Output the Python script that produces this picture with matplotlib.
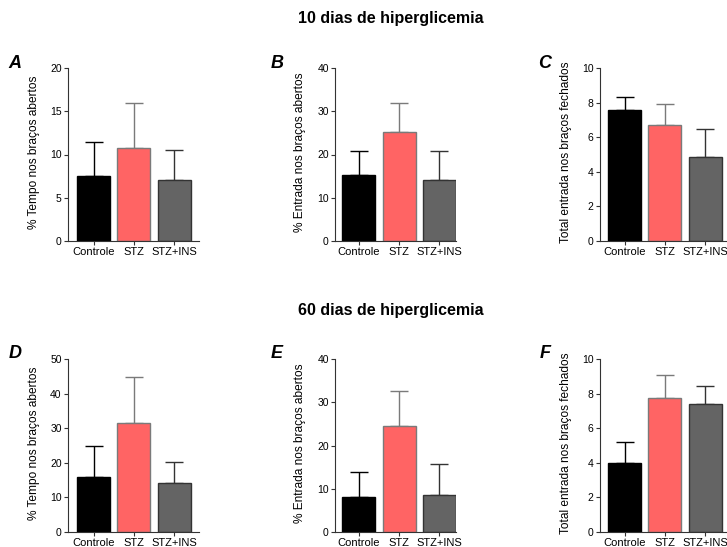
import matplotlib
matplotlib.use("Agg")
import matplotlib.pyplot as plt

plt.rcParams['font.family'] = ['Liberation Sans', 'DejaVu Sans']

categories = ["Controle", "STZ", "STZ+INS"]

# 10 dias
a_mean = [7.5, 10.7, 7.0]
a_err = [4.0, 5.2, 3.5]
b_mean = [15.2, 25.3, 14.2]
b_err = [5.7, 6.7, 6.5]
c_mean = [7.6, 6.7, 4.85]
c_err = [0.75, 1.2, 1.6]
# 60 dias
d_mean = [15.9, 31.6, 14.3]
d_err = [9.1, 13.2, 6.0]
e_mean = [8.2, 24.5, 8.5]
e_err = [5.6, 8.2, 7.3]
f_mean = [4.0, 7.75, 7.4]
f_err = [1.2, 1.35, 1.05]

ylabels = ["% Tempo nos braços abertos", "% Entrada nos braços abertos",
           "Total entrada nos braços fechados"]
letters = ["A", "B", "C", "D", "E", "F"]
ymax = [20, 40, 10, 50, 40, 10]
ystep = [5, 10, 2, 10, 10, 2]
titles = ["10 dias de hiperglicemia", "60 dias de hiperglicemia"]

fills = ["#000000", "#FF6464", "#646464"]
edges = ["#000000", "#7a7a7a", "#333333"]

W, H = 727, 547
fig = plt.figure(figsize=(W / 100, H / 100), dpi=100)

cols = [(68, 199, -0.634, 2.62, 34, 15),
        (335, 456, -0.596, 2.41, 300, 277),
        (600, 726, -0.609, 2.52, 566, 545)]
rows = [(68, 241), (359, 532)]

data = [(a_mean, a_err), (b_mean, b_err), (c_mean, c_err),
        (d_mean, d_err), (e_mean, e_err), (f_mean, f_err)]

for r, (top, bot) in enumerate(rows):
    for c, (xl, xr, lo, hi, ylx, letx) in enumerate(cols):
        idx = r * 3 + c
        ax = fig.add_axes([xl / W, 1 - bot / H, (xr - xl) / W, (bot - top) / H])
        means, errs = data[idx]
        for i in range(3):
            ax.bar(i, means[i], width=0.82, color=fills[i], edgecolor=edges[i],
                   linewidth=1.0, zorder=2)
            ax.errorbar(i, means[i], yerr=[[0], [errs[i]]], fmt='none',
                        ecolor=edges[i], elinewidth=1.0, capsize=6.5,
                        capthick=1.0, zorder=1)
        ax.set_xlim(lo, hi)
        ax.set_ylim(0, ymax[idx])
        ax.set_yticks(range(0, ymax[idx] + 1, ystep[idx]))
        ax.set_xticks(range(3))
        ax.set_xticklabels(categories, fontsize=8)
        ax.tick_params(axis='y', labelsize=7.5, length=3, width=0.8, color='#333333', pad=1.5)
        ax.tick_params(axis='x', length=3, width=0.8, color='#333333', pad=1)
        for s in ['top', 'right']:
            ax.spines[s].set_visible(False)
        for s in ['left', 'bottom']:
            ax.spines[s].set_color('#333333')
            ax.spines[s].set_linewidth(0.8)
        fig.text(ylx / W, 1 - ((top + bot) / 2 - 2) / H, ylabels[c], rotation=90,
                 ha='center', va='center', fontsize=8.6)
        fig.text(letx / W, 1 - (top - 5) / H, letters[idx], fontsize=13,
                 fontweight='bold', fontstyle='italic', ha='center', va='center')

fig.text(391 / W, 1 - 18 / H, titles[0], fontsize=11.5, fontweight='bold',
         ha='center', va='center')
fig.text(391 / W, 1 - 310 / H, titles[1], fontsize=11.5, fontweight='bold',
         ha='center', va='center')

fig.savefig("out.png", dpi=100)
